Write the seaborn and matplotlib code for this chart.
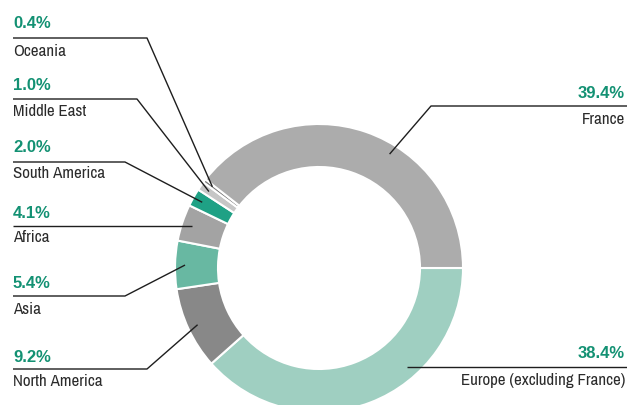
import numpy as np
import matplotlib
matplotlib.use("Agg")
import matplotlib.pyplot as plt
import seaborn as sns
from matplotlib import font_manager

regions = ["Europe (excluding France)", "North America", "Asia", "Africa",
           "South America", "Middle East", "Oceania", "France"]
shares = [38.4, 9.2, 5.4, 4.1, 2.0, 1.0, 0.4, 39.4]
pct_labels = ["38.4%", "9.2%", "5.4%", "4.1%", "2.0%", "1.0%", "0.4%", "39.4%"]
colors = ["#9fcfc1", "#888888", "#68b8a2", "#a3a3a3",
          "#1fa185", "#c6c6c6", "#7a7a7a", "#acacac"]

sns.set_theme(style="white")

# narrow sans face for the region names, bold sans for the shares
fonts = font_manager.fontManager.ttflist
def pick(prefs, bold=False):
    for name in prefs:
        for f in fonts:
            if f.name == name and (not bold or (isinstance(f.weight, int) and f.weight >= 700)
                                   or f.weight == "bold"):
                return name
    return "DejaVu Sans"

reg_font = pick(["Liberation Sans Narrow", "Archivo Narrow", "Roboto Condensed",
                 "IBM Plex Sans Condensed"])
bold_font = pick(["Liberation Sans", "Arimo", "DejaVu Sans"], bold=True)
plt.rcParams["font.family"] = [reg_font, "DejaVu Sans"]

W, H = 627, 405
fig = plt.figure(figsize=(W / 100, H / 100), dpi=100)
ax = fig.add_axes([0, 0, 1, 1])

cx, cy = 319, H - 268
R_out, ring = 144, 43

wedges, _ = ax.pie(shares, colors=colors, startangle=0, counterclock=False,
                   center=(cx, cy), radius=R_out,
                   wedgeprops=dict(width=ring, edgecolor="white", linewidth=1.5))

# pie() resets the limits, so set the canvas frame afterwards
ax.set_xlim(0, W)
ax.set_ylim(0, H)
ax.set_aspect("equal")
ax.axis("off")

green = "#139173"
txt = "#2b2b2b"
line_kw = dict(color="#1e1e1e", lw=1.0, solid_capstyle="butt")
pct_kw = dict(color=green, fontsize=12, fontweight="bold",
              family=[bold_font, "DejaVu Sans"], va="center")
lab_kw = dict(color=txt, fontsize=12.2, va="center")

def anchor(w, frac=0.5, r=134):
    a = np.deg2rad(w.theta1 + (w.theta2 - w.theta1) * frac)
    return cx + r * np.cos(a), cy + r * np.sin(a)

# left-side labels: (index, percent y, rule y, knee x, label y)
left = [
    (6, 24, 38, 147, 52),
    (5, 86, 99, 137, 111),
    (4, 148, 162, 125, 174),
    (3, 213, 226, None, 238),
    (2, 283, 296, 125, 309),
    (1, 357, 369, 147, 382),
]
x0 = 13
for i, py, ly, kx, ty in left:
    axx, axy = anchor(wedges[i])
    ax.text(x0, H - py, pct_labels[i], ha="left", **pct_kw)
    ax.text(x0, H - ty, regions[i], ha="left", **lab_kw)
    if kx is None:
        ax.plot([x0, axx], [H - ly, H - ly], **line_kw)
    else:
        ax.plot([x0, kx, axx], [H - ly, H - ly, axy], **line_kw)

# France (right, top)
fx, fy = anchor(wedges[7], 0.41)
ax.text(625, H - 93, pct_labels[7], ha="right", **pct_kw)
ax.text(625, H - 120, regions[7], ha="right", **lab_kw)
ax.plot([W, 431, fx], [H - 106, H - 106, fy], **line_kw)

# Europe (right, bottom)
ex, ey = anchor(wedges[0], 0.65, r=132)
ax.text(625, H - 353, pct_labels[0], ha="right", **pct_kw)
ax.text(625, H - 380, regions[0], ha="right", **lab_kw)
ax.plot([ex, W], [ey, ey], **line_kw)

fig.savefig("out.png", dpi=100)
